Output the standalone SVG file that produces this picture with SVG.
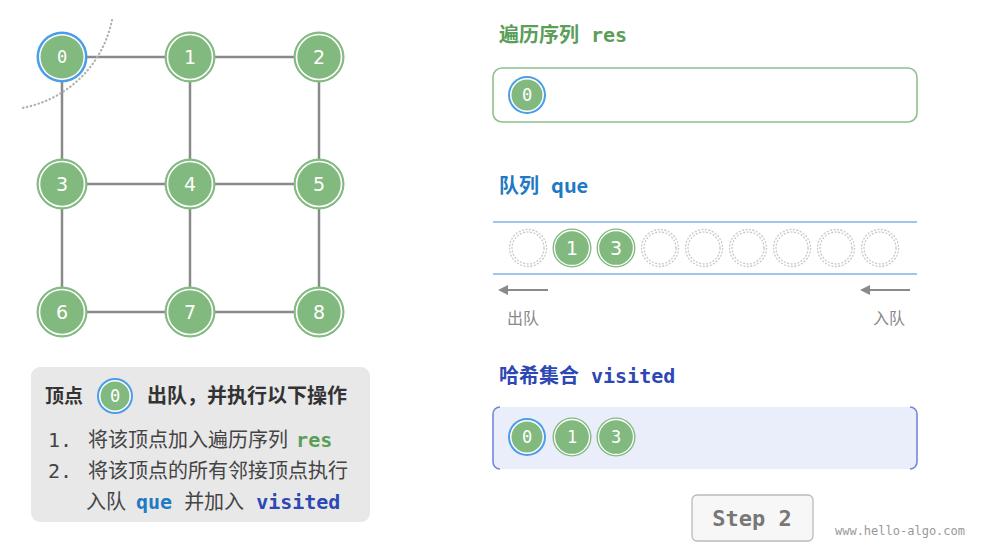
<svg xmlns="http://www.w3.org/2000/svg" width="985" height="547" viewBox="0 0 985 547">
<defs>
<style>
.edge{stroke:#8a8a8a;stroke-width:2.5;fill:none}
.node circle.o{fill:#82b97f;stroke:#82b97f;stroke-width:1}
.node circle.i{fill:none;stroke:#fff;stroke-width:1.6}
.nt{font-family:"DejaVu Sans","Noto Sans",sans-serif;font-size:19px;fill:#fff;text-anchor:middle;dominant-baseline:central}
.mt{font-family:"DejaVu Sans Mono","Liberation Mono",monospace;font-size:17px;fill:#fff;text-anchor:middle;dominant-baseline:central}
.cjk{font-family:"Noto Sans CJK SC","Noto Sans",sans-serif}
.mono{font-family:"DejaVu Sans Mono","Liberation Mono",monospace}
.empty{fill:#fff;stroke:#c8c8c8;stroke-width:1.3;stroke-dasharray:2 1.5}
</style>
<marker id="ah" viewBox="0 0 10 10" refX="2" refY="5" markerWidth="5" markerHeight="5" orient="auto-start-reverse">
<path d="M0,0 L10,5 L0,10 z" fill="#8a8a8a"/>
</marker>
<filter id="sh" x="-5%" y="-100%" width="110%" height="300%"><feGaussianBlur stdDeviation="1.5"/></filter>
</defs>
<rect width="985" height="547" fill="#fff"/>

<g id="connectors">
<line class="edge" x1="62" y1="57" x2="319" y2="57"/>
<line class="edge" x1="62" y1="184" x2="319" y2="184"/>
<line class="edge" x1="62" y1="312" x2="319" y2="312"/>
<line class="edge" x1="62" y1="57" x2="62" y2="312"/>
<line class="edge" x1="190" y1="57" x2="190" y2="312"/>
<line class="edge" x1="319" y1="57" x2="319" y2="312"/>
</g>

<path id="arc" d="M112,20 A112,112 0 0 1 22,108" fill="none" stroke="#b0b0b0" stroke-width="2.2" stroke-dasharray="0.5 3.5" stroke-linecap="round"/>

<g id="node0" class="node">
<circle cx="62" cy="57" r="25.5" fill="#4a9ee8"/>
<circle cx="62" cy="57" r="23" fill="#fff"/>
<circle cx="62" cy="57" r="21.5" fill="#82b97f"/>
<text x="62" y="57" class="mt">0</text>
</g>
<g id="node1" class="node"><circle class="o" cx="190" cy="57" r="25"/><circle class="i" cx="190" cy="57" r="22.5"/><text x="190" y="57" class="nt">1</text></g>
<g id="node2" class="node"><circle class="o" cx="319" cy="57" r="25"/><circle class="i" cx="319" cy="57" r="22.5"/><text x="319" y="57" class="nt">2</text></g>
<g id="node3" class="node"><circle class="o" cx="62" cy="184" r="25"/><circle class="i" cx="62" cy="184" r="22.5"/><text x="62" y="184" class="nt">3</text></g>
<g id="node4" class="node"><circle class="o" cx="190" cy="184" r="25"/><circle class="i" cx="190" cy="184" r="22.5"/><text x="190" y="184" class="nt">4</text></g>
<g id="node5" class="node"><circle class="o" cx="319" cy="184" r="25"/><circle class="i" cx="319" cy="184" r="22.5"/><text x="319" y="184" class="nt">5</text></g>
<g id="node6" class="node"><circle class="o" cx="62" cy="312" r="25"/><circle class="i" cx="62" cy="312" r="22.5"/><text x="62" y="312" class="nt">6</text></g>
<g id="node7" class="node"><circle class="o" cx="190" cy="312" r="25"/><circle class="i" cx="190" cy="312" r="22.5"/><text x="190" y="312" class="nt">7</text></g>
<g id="node8" class="node"><circle class="o" cx="319" cy="312" r="25"/><circle class="i" cx="319" cy="312" r="22.5"/><text x="319" y="312" class="nt">8</text></g>

<!-- res -->
<g id="res">
<text x="499" y="42" font-size="20" font-weight="bold" fill="#5a9e58"><tspan class="cjk">遍历序列</tspan><tspan class="mono" dx="12">res</tspan></text>
<rect x="493" y="68" width="424" height="54" rx="9" fill="#fff" stroke="#8fc08c" stroke-width="1.6"/>
<circle cx="527" cy="95" r="19" fill="#4a9ee8"/>
<circle cx="527" cy="95" r="17" fill="#fff"/>
<circle cx="527" cy="95" r="15.5" fill="#82b97f"/>
<text x="527" y="95" class="mt" font-size="15">0</text>
</g>

<!-- queue -->
<g id="queue">
<text x="499" y="193" font-size="20" font-weight="bold" fill="#1f7ac4"><tspan class="cjk">队列</tspan><tspan class="cjk" dx="12">que</tspan></text>
<line x1="493" y1="223" x2="917" y2="223" stroke="#ccc" stroke-width="3" filter="url(#sh)"/>
<line x1="493" y1="275" x2="917" y2="275" stroke="#ccc" stroke-width="3" filter="url(#sh)"/>
<line x1="493" y1="222" x2="917" y2="222" stroke="#7fb3e3" stroke-width="1.3"/>
<line x1="493" y1="274" x2="917" y2="274" stroke="#7fb3e3" stroke-width="1.3"/>
<circle class="empty" cx="528" cy="248" r="18.5"/><circle class="empty" cx="528" cy="248" r="16"/>
<circle cx="572" cy="248" r="19.5" fill="#82b97f"/><circle cx="572" cy="248" r="17.5" fill="none" stroke="#fff" stroke-width="1.3"/>
<text x="572" y="248" class="nt" font-size="17">1</text>
<circle cx="616" cy="248" r="19.5" fill="#82b97f"/><circle cx="616" cy="248" r="17.5" fill="none" stroke="#fff" stroke-width="1.3"/>
<text x="616" y="248" class="nt" font-size="17">3</text>
<circle class="empty" cx="660" cy="248" r="18.5"/><circle class="empty" cx="660" cy="248" r="16"/>
<circle class="empty" cx="704" cy="248" r="18.5"/><circle class="empty" cx="704" cy="248" r="16"/>
<circle class="empty" cx="748" cy="248" r="18.5"/><circle class="empty" cx="748" cy="248" r="16"/>
<circle class="empty" cx="792" cy="248" r="18.5"/><circle class="empty" cx="792" cy="248" r="16"/>
<circle class="empty" cx="836" cy="248" r="18.5"/><circle class="empty" cx="836" cy="248" r="16"/>
<circle class="empty" cx="880" cy="248" r="18.5"/><circle class="empty" cx="880" cy="248" r="16"/>
<line x1="548" y1="290" x2="506" y2="290" stroke="#8a8a8a" stroke-width="2" marker-end="url(#ah)"/>
<line x1="910" y1="290" x2="868" y2="290" stroke="#8a8a8a" stroke-width="2" marker-end="url(#ah)"/>
<text x="523" y="324" class="cjk" font-size="16" fill="#888" text-anchor="middle">出队</text>
<text x="889" y="324" class="cjk" font-size="16" fill="#888" text-anchor="middle">入队</text>
</g>

<!-- visited -->
<g id="visited">
<text x="499" y="383" font-size="20" font-weight="bold" fill="#2d48b4"><tspan class="cjk">哈希集合</tspan><tspan class="mono" dx="12">visited</tspan></text>
<rect x="493" y="407" width="424" height="62" rx="7" fill="#e9eefa"/>
<path d="M500,407 A7,7 0 0 0 493,414 L493,462 A7,7 0 0 0 500,469" fill="none" stroke="#7088d8" stroke-width="1.6"/>
<path d="M910,407 A7,7 0 0 1 917,414 L917,462 A7,7 0 0 1 910,469" fill="none" stroke="#7088d8" stroke-width="1.6"/>
<circle cx="527" cy="437" r="19" fill="#4a9ee8"/>
<circle cx="527" cy="437" r="17" fill="#fff"/>
<circle cx="527" cy="437" r="15.5" fill="#82b97f"/>
<text x="527" y="437" class="mt" font-size="15">0</text>
<circle cx="572" cy="437" r="19.5" fill="#82b97f"/><circle cx="572" cy="437" r="17.5" fill="none" stroke="#fff" stroke-width="1.3"/>
<text x="572" y="437" class="mt" font-size="16">1</text>
<circle cx="616" cy="437" r="19.5" fill="#82b97f"/><circle cx="616" cy="437" r="17.5" fill="none" stroke="#fff" stroke-width="1.3"/>
<text x="616" y="437" class="mt" font-size="16">3</text>
</g>

<!-- info panel -->
<g id="panel">
<rect x="31" y="367" width="339" height="155" rx="9" fill="#e8e8e8"/>
<text x="45" y="403" class="cjk" font-size="19" font-weight="bold" fill="#333">顶点</text>
<circle cx="115" cy="396" r="18" fill="#4a9ee8"/>
<circle cx="115" cy="396" r="16" fill="#fff"/>
<circle cx="115" cy="396" r="14.5" fill="#82b97f"/>
<text x="115" y="396" class="mt" font-size="14">0</text>
<text x="147" y="403" class="cjk" font-size="20" font-weight="bold" fill="#333">出队，并执行以下操作</text>
<text x="48" y="447" font-size="20" fill="#444"><tspan class="mono">1.</tspan><tspan class="cjk" dx="16">将该顶点加入遍历序列</tspan><tspan class="mono" dx="8" font-weight="bold" fill="#5a9e58">res</tspan></text>
<text x="48" y="478" font-size="20" fill="#444"><tspan class="mono">2.</tspan><tspan class="cjk" dx="16">将该顶点的所有邻接顶点执行</tspan></text>
<text x="86" y="509" font-size="20" fill="#444"><tspan class="cjk">入队</tspan><tspan class="mono" dx="10" font-weight="bold" fill="#1f7ac4">que</tspan><tspan class="cjk" dx="12">并加入</tspan><tspan class="mono" dx="12" font-weight="bold" fill="#2d48b4">visited</tspan></text>
</g>

<g id="step">
<rect x="692" y="495" width="121" height="46" rx="5" fill="#f7f7f7" stroke="#bbb" stroke-width="1.3"/>
<text x="752" y="526" class="mono" font-size="22" font-weight="bold" fill="#777" text-anchor="middle">Step 2</text>
</g>
<text x="900" y="535" class="mono" font-size="12" fill="#999" text-anchor="middle">www.hello-algo.com</text>
</svg>
